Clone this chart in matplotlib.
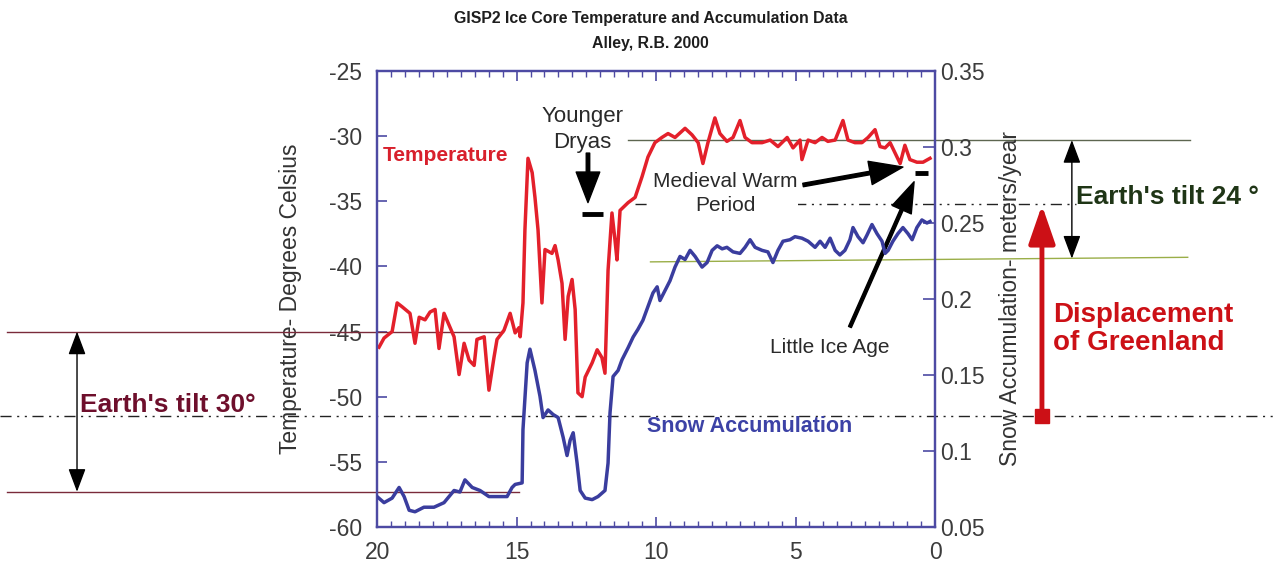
import matplotlib
matplotlib.use("Agg")
import matplotlib.pyplot as plt
from matplotlib.ticker import MultipleLocator, FuncFormatter
from matplotlib.transforms import blended_transform_factory

plt.rcParams['font.family'] = ['Liberation Sans', 'DejaVu Sans']
plt.rcParams['axes.unicode_minus'] = False

# GISP2 temperature (deg C) against age (thousand years BP)
temp_age = [19.93, 19.75, 19.46, 19.28, 19.10, 18.82, 18.64, 18.49, 18.28, 18.10,
            17.92, 17.78, 17.60, 17.42, 17.24, 17.06, 16.88, 16.70, 16.52, 16.42,
            16.16, 15.99, 15.81, 15.70, 15.45, 15.23, 15.05, 14.91, 14.87, 14.77,
            14.70, 14.59, 14.44, 14.34, 14.23, 14.09, 13.98, 13.73, 13.62, 13.51,
            13.37, 13.26, 13.15, 13.01, 12.90, 12.80, 12.65, 12.54, 12.29, 12.11,
            11.94, 11.83, 11.72, 11.58, 11.47, 11.40, 11.29, 11.00, 10.75, 10.50,
            10.29, 10.04, 9.79, 9.57, 9.32, 8.96, 8.71, 8.49, 8.32, 8.14,
            7.89, 7.71, 7.46, 7.24, 6.99, 6.81, 6.56, 6.20, 5.91, 5.63,
            5.30, 5.09, 4.84, 4.77, 4.55, 4.30, 4.05, 3.84, 3.58, 3.30,
            3.12, 2.87, 2.62, 2.40, 2.15, 1.97, 1.79, 1.61, 1.43, 1.25,
            1.08, 0.90, 0.65, 0.43, 0.18]
temp_val = [-46.2, -45.5, -45.0, -42.8, -43.1, -43.6, -45.9, -43.9, -44.1, -43.5,
            -43.3, -46.3, -43.6, -44.5, -45.4, -48.3, -45.9, -47.2, -47.6, -45.6,
            -45.4, -49.5, -47.0, -45.6, -44.9, -43.6, -45.1, -44.7, -45.4, -42.8,
            -37.2, -31.7, -32.8, -34.7, -37.2, -42.8, -38.7, -39.0, -38.4, -39.5,
            -41.3, -45.6, -42.3, -41.0, -43.3, -49.7, -50.0, -48.5, -47.4, -46.4,
            -47.0, -48.2, -40.3, -35.9, -38.0, -39.5, -35.7, -35.1, -34.7, -33.1,
            -31.6, -30.5, -30.1, -29.8, -30.1, -29.4, -29.9, -30.5, -32.1, -30.5,
            -28.6, -29.8, -30.4, -30.1, -28.8, -30.1, -30.5, -30.5, -30.3, -30.8,
            -30.1, -30.9, -30.3, -31.8, -30.3, -30.5, -30.1, -30.4, -30.3, -28.8,
            -30.3, -30.5, -30.5, -30.1, -29.5, -30.8, -30.9, -30.5, -31.3, -32.1,
            -30.7, -31.8, -32.0, -32.0, -31.7]

# snow accumulation (m/yr) against age
acc_age = [20.00, 19.75, 19.46, 19.21, 19.03, 18.85, 18.64, 18.32, 17.96, 17.60,
           17.24, 17.03, 16.85, 16.59, 16.31, 15.99, 15.59, 15.34, 15.16, 15.05,
           14.80, 14.77, 14.62, 14.52, 14.34, 14.16, 14.05, 13.87, 13.69, 13.51,
           13.33, 13.19, 13.08, 12.97, 12.83, 12.72, 12.54, 12.29, 12.08, 11.83,
           11.72, 11.65, 11.54, 11.36, 11.22, 11.00, 10.82, 10.65, 10.47, 10.29,
           10.11, 9.96, 9.86, 9.50, 9.32, 9.14, 8.96, 8.78, 8.60, 8.35,
           8.17, 7.99, 7.81, 7.63, 7.46, 7.24, 6.99, 6.81, 6.63, 6.45,
           6.20, 5.99, 5.81, 5.63, 5.45, 5.20, 5.02, 4.77, 4.55, 4.30,
           4.12, 3.94, 3.76, 3.58, 3.41, 3.23, 3.05, 2.94, 2.76, 2.58,
           2.44, 2.26, 2.08, 1.90, 1.79, 1.68, 1.51, 1.33, 1.15, 0.97,
           0.82, 0.65, 0.47, 0.29, 0.18]
acc_val = [0.070, 0.066, 0.069, 0.076, 0.070, 0.061, 0.060, 0.063, 0.063, 0.066,
           0.074, 0.073, 0.081, 0.076, 0.074, 0.070, 0.070, 0.070, 0.076, 0.078,
           0.079, 0.114, 0.158, 0.167, 0.153, 0.136, 0.122, 0.127, 0.124, 0.122,
           0.109, 0.097, 0.107, 0.112, 0.092, 0.074, 0.069, 0.068, 0.070, 0.074,
           0.092, 0.125, 0.149, 0.153, 0.160, 0.168, 0.175, 0.180, 0.186, 0.195,
           0.204, 0.208, 0.199, 0.212, 0.221, 0.228, 0.226, 0.232, 0.228, 0.221,
           0.224, 0.232, 0.235, 0.233, 0.234, 0.231, 0.230, 0.234, 0.239, 0.234,
           0.232, 0.231, 0.224, 0.232, 0.238, 0.239, 0.241, 0.240, 0.238, 0.234,
           0.238, 0.234, 0.240, 0.232, 0.229, 0.232, 0.239, 0.247, 0.241, 0.237,
           0.242, 0.249, 0.243, 0.238, 0.230, 0.232, 0.238, 0.243, 0.247, 0.243,
           0.239, 0.247, 0.252, 0.250, 0.251]

x_ticks = [20, 15, 10, 5, 0]
temp_ticks = [-60, -55, -50, -45, -40, -35, -30, -25]
acc_ticks = [0.05, 0.1, 0.15, 0.2, 0.25, 0.3, 0.35]

# reference levels on the temperature scale
tilt30_top, tilt30_bottom, tilt30_mid = -45.0, -57.3, -51.5
tilt24_top, tilt24_bottom, tilt24_mid = -30.3, -39.4, -35.2

RED = '#e3202b'
BLUE = '#3a3d9e'
FRAME = '#4d4aa3'
TICKTXT = '#3c3c3c'
DASHDOT = (0, (8, 4, 1.5, 4, 1.5, 4))

fig = plt.figure(figsize=(12.73, 5.65), dpi=100)
ax = fig.add_axes([0.2962, 0.0673, 0.4383, 0.807])
ax2 = ax.twinx()

ax.plot(temp_age, temp_val, color=RED, lw=2.5, zorder=3)
ax2.plot(acc_age, acc_val, color=BLUE, lw=2.5, zorder=3)

ax.set_xlim(20, 0)
ax.set_ylim(-60, -25)
ax2.set_ylim(0.05, 0.35)
ax.set_xticks(x_ticks)
ax.xaxis.set_minor_locator(MultipleLocator(0.5))
ax.set_yticks(temp_ticks)
ax2.set_yticks(acc_ticks)
ax2.yaxis.set_major_formatter(FuncFormatter(lambda v, p: '%g' % v))

for a in (ax, ax2):
    for s in a.spines.values():
        s.set_color(FRAME)
        s.set_linewidth(1.6)
ax.tick_params(axis='x', which='both', direction='in', top=True, color=FRAME,
               labelsize=16.5, labelcolor=TICKTXT, pad=10)
ax.tick_params(axis='x', which='major', length=7, width=1.2)
ax.tick_params(axis='x', which='minor', length=4, width=1)
ax.tick_params(axis='y', direction='in', length=7, width=1.2, color=FRAME,
               labelsize=16.5, labelcolor=TICKTXT, pad=10.5)
ax2.tick_params(axis='y', direction='in', length=9, width=1.2, color=FRAME,
                labelsize=16.5, labelcolor=TICKTXT, pad=4)

ax.set_ylabel('Temperature- Degrees Celsius', fontsize=16.5, color='#333333', labelpad=20)
ax2.set_ylabel('Snow Accumulation- meters/year', fontsize=16.5, color='#333333', labelpad=10)

fig.text(0.511, 0.968, 'GISP2 Ice Core Temperature and Accumulation Data',
         ha='center', va='center', fontsize=11.4, fontweight='bold', color='#1e1e1e')
fig.text(0.511, 0.923, 'Alley, R.B. 2000',
         ha='center', va='center', fontsize=11.4, fontweight='bold', color='#1e1e1e')

# series labels
ax.text(19.78, -31.45, 'Temperature', color='#d8202c', fontsize=15,
        fontweight='bold', ha='left', va='center')
ax.text(10.32, -52.3, 'Snow Accumulation', color='#3c42a6', fontsize=15.5,
        fontweight='bold', ha='left', va='center')

# event annotations
ax.text(12.65, -29.5, 'Younger\nDryas', ha='center', va='center', fontsize=16,
        color='#2a2a2a', linespacing=1.35)
ax.annotate('', xy=(12.44, -35.1), xytext=(12.44, -31.3),
            arrowprops=dict(width=2.5, headwidth=17, headlength=22, color='black'))
ax.plot([12.65, 11.9], [-36.0, -36.0], color='black', lw=3.5, solid_capstyle='butt')

ax.text(7.53, -34.4, 'Medieval Warm\nPeriod', ha='center', va='center', fontsize=15,
        color='#2a2a2a', linespacing=1.35, zorder=4,
        bbox=dict(facecolor='white', edgecolor='none', pad=0.5))
ax.annotate('', xy=(1.15, -32.37), xytext=(4.73, -33.75),
            arrowprops=dict(width=2.5, headwidth=17, headlength=24, color='black'))
ax.plot([0.72, 0.25], [-32.83, -32.83], color='black', lw=3.5, solid_capstyle='butt')

ax.text(3.76, -46.2, 'Little Ice Age', ha='center', va='center', fontsize=15,
        color='#2a2a2a')
ax.annotate('', xy=(0.75, -33.5), xytext=(3.05, -44.65),
            arrowprops=dict(width=2.2, headwidth=15, headlength=22, color='black'))

# tilt / displacement overlay, x in figure fraction, y in temperature units
tr = blended_transform_factory(fig.transFigure, ax.transData)

ax.plot([0.0055, 0.395], [tilt30_top] * 2, color='#7a2a3a', lw=1, transform=tr, clip_on=False)
ax.plot([0.0055, 0.408], [tilt30_bottom] * 2, color='#7a2a3a', lw=1, transform=tr, clip_on=False)
ax.plot([0.0, 1.0], [tilt30_mid] * 2, color='#222222', lw=1, ls=DASHDOT,
        transform=tr, clip_on=False)
ax.annotate('', xy=(0.0605, tilt30_bottom), xytext=(0.0605, tilt30_top),
            xycoords=tr, textcoords=tr,
            arrowprops=dict(arrowstyle='<|-|>,head_length=0.8,head_width=0.3',
                            mutation_scale=18, color='black', lw=1, shrinkA=0, shrinkB=0))
fig.text(0.063, 0.283, "Earth's tilt 30°", color='#6e0f2c', fontsize=19,
         fontweight='bold', ha='left', va='center')

ax.plot([0.493, 0.935], [tilt24_top] * 2, color='#5d6650', lw=1, transform=tr, clip_on=False)
ax.plot([0.511, 0.933], [-39.65, -39.3], color='#9aae48', lw=1, transform=tr, clip_on=False)
ax.plot([0.499, 0.845], [tilt24_mid] * 2, color='#222222', lw=1, ls=DASHDOT,
        transform=tr, clip_on=False)
ax.annotate('', xy=(0.842, tilt24_bottom), xytext=(0.842, tilt24_top),
            xycoords=tr, textcoords=tr,
            arrowprops=dict(arrowstyle='<|-|>,head_length=0.8,head_width=0.3',
                            mutation_scale=18, color='black', lw=1, shrinkA=0, shrinkB=0))
fig.text(0.845, 0.651, "Earth's tilt 24 °", color='#1f3516', fontsize=19,
         fontweight='bold', ha='left', va='center')

ax.annotate('', xy=(0.8185, -35.3), xytext=(0.8185, tilt30_mid),
            xycoords=tr, textcoords=tr,
            arrowprops=dict(arrowstyle='-|>,head_length=1.3,head_width=0.45',
                            mutation_scale=18, color='#cc1016', lw=3.5,
                            shrinkA=0, shrinkB=0))
ax.plot([0.8185], [tilt30_mid], marker='s', ms=10, color='#cc1016', transform=tr, clip_on=False)
fig.text(0.827, 0.418, 'Displacement\nof Greenland', color='#cc1016', fontsize=20,
         fontweight='bold', ha='left', va='center', linespacing=1.12)

fig.savefig('out.png', dpi=100, facecolor='white')
